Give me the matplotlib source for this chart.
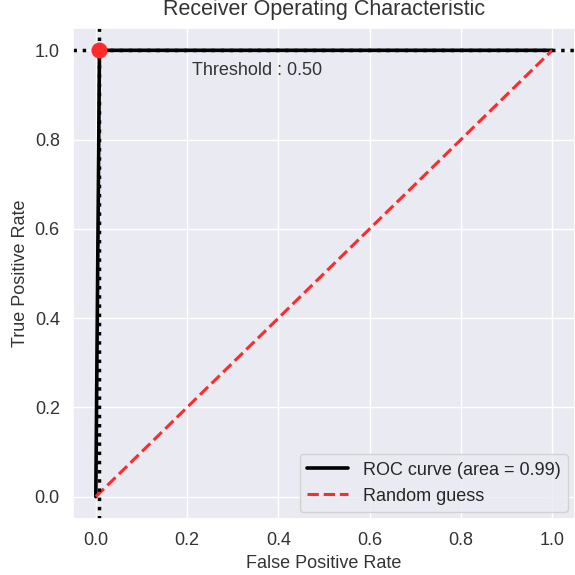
import matplotlib
matplotlib.use("Agg")
import matplotlib.pyplot as plt
import seaborn as sns

sns.set_theme(style="darkgrid")
plt.rcParams['font.family'] = ['Liberation Sans', 'DejaVu Sans']

fpr = [0.0, 0.008, 1.0]
tpr = [0.0, 1.0, 1.0]
roc_auc = 0.99
random_x = [0.0, 1.0]
random_y = [0.0, 1.0]
best_fpr = 0.008
best_tpr = 1.0
threshold = 0.50

fig = plt.figure(figsize=(5.75, 5.75), dpi=100)
ax = fig.add_axes([73/575, 1-519/575, 502/575, 491/575])

ax.plot(fpr, tpr, color='black', lw=2.6, label='ROC curve (area = %0.2f)' % roc_auc)
ax.plot(random_x, random_y, color='#ff2a2a', lw=2.2, linestyle='--', label='Random guess')
ax.axvline(best_fpr, color='black', linestyle=':', lw=2.5)
ax.axhline(best_tpr, color='black', linestyle=':', lw=2.5)
ax.plot([best_fpr], [best_tpr], 'o', color='#ff2a2a', markersize=10.5, zorder=5)
ax.text(0.21, 0.955, 'Threshold : %.2f' % threshold, fontsize=13, color='#333333', va='center')

ax.set_xlim(-0.05, 1.05)
ax.set_ylim(-0.05, 1.05)
ax.set_xticks([0, 0.2, 0.4, 0.6, 0.8, 1.0])
ax.set_yticks([0, 0.2, 0.4, 0.6, 0.8, 1.0])
ax.tick_params(labelsize=13, labelcolor='#333333')
ax.set_xlabel('False Positive Rate', fontsize=13, color='#333333')
ax.set_ylabel('True Positive Rate', fontsize=13, color='#333333')
ax.set_title('Receiver Operating Characteristic', fontsize=15.5, color='#333333', pad=9)
ax.legend(loc='lower right', fontsize=13, handlelength=2.3, borderaxespad=0.4)

fig.savefig('out.png', dpi=100)
